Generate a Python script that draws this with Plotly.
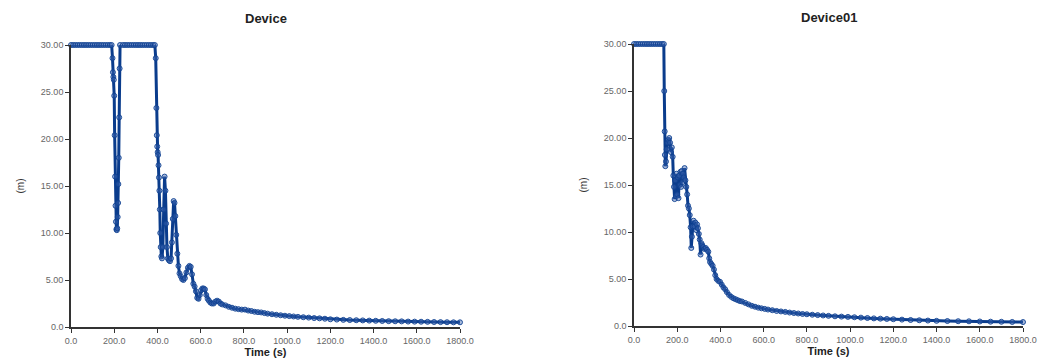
import plotly.graph_objects as go

# Device: distance (m) over time (s)
device_t = [0, 10, 20, 30, 40, 50, 60, 70, 80, 90, 100, 110, 120, 130, 140, 150, 160, 170, 180, 188,
            192, 194, 196, 198, 200, 202, 204, 206, 208, 210, 212, 214, 216, 218, 219, 221, 223, 225, 227,
            240, 250, 260, 270, 280, 290, 300, 310, 320, 330, 340, 350, 360, 370, 380, 388,
            392, 395, 397, 399, 401, 403, 405, 407, 409, 411, 413, 415, 418, 421, 425, 429, 433, 437, 440,
            444, 448, 453, 458, 463, 467, 471, 475, 479, 483, 487, 492, 497, 502, 508, 514, 520, 527, 534,
            541, 548, 554, 560, 566, 572, 578, 584, 590, 596, 602, 608, 614, 620, 626, 632, 638, 645, 652,
            660, 668, 676, 684, 692, 700, 715, 730, 745, 760, 775, 790, 805, 820, 835, 850, 865, 880, 895,
            910, 930, 950, 970, 990, 1010, 1030, 1050, 1075, 1100, 1125, 1150, 1175, 1200, 1230, 1260, 1290,
            1320, 1350, 1380, 1410, 1440, 1470, 1500, 1530, 1560, 1590, 1620, 1650, 1680, 1710, 1740, 1770, 1800]
device_m = [30, 30, 30, 30, 30, 30, 30, 30, 30, 30, 30, 30, 30, 30, 30, 30, 30, 30, 30, 30,
            28.6, 27.1, 26.6, 26.3, 24.6, 20.4, 16.0, 12.9, 11.2, 10.4, 10.3, 10.5, 11.7, 13.2, 15.2, 18.0, 22.3, 27.5, 30,
            30, 30, 30, 30, 30, 30, 30, 30, 30, 30, 30, 30, 30, 30, 30, 30,
            28.6, 23.3, 20.4, 19.2, 18.6, 18.3, 17.2, 15.9, 14.5, 12.5, 10.0, 8.5, 7.5, 7.3, 8.5, 12.5, 16.0, 14.5, 11.0,
            8.5, 7.3, 7.1, 7.0, 7.3, 9.0, 11.5, 13.4, 13.2, 11.8, 9.8, 7.8, 6.5, 5.7, 5.4, 5.1, 5.0, 5.2, 5.8,
            6.3, 6.5, 6.4, 5.6, 4.6, 4.3, 3.8, 3.1, 3.0, 3.4, 3.9, 4.1, 4.1, 4.0, 3.4, 3.0, 2.8, 2.6, 2.5,
            2.5, 2.7, 2.8, 2.7, 2.5, 2.4, 2.3, 2.15, 2.05, 1.95, 1.9, 1.85, 1.85, 1.75, 1.7, 1.62, 1.58, 1.55, 1.48,
            1.42, 1.36, 1.3, 1.25, 1.2, 1.16, 1.12, 1.08, 1.04, 1.0, 0.95, 0.92, 0.88, 0.82, 0.79, 0.76, 0.74,
            0.72, 0.7, 0.68, 0.66, 0.64, 0.62, 0.61, 0.6, 0.58, 0.57, 0.56, 0.55, 0.53, 0.52, 0.51, 0.5, 0.5]

# Device01: distance (m) over time (s)
device01_t = [0, 10, 20, 30, 40, 50, 60, 70, 80, 90, 100, 110, 120, 130, 138,
              140, 142, 143, 145, 148, 151, 155, 159, 163, 167, 171, 175, 179, 182, 185, 188, 191, 194, 197,
              200, 203, 206, 209, 212, 215, 218, 221, 224, 227, 230, 234, 238, 242, 246, 250, 254, 258, 262,
              265, 268, 272, 276, 280, 284, 288, 292, 296, 300, 304, 308, 312, 316, 320, 326, 332, 338, 344,
              348, 352, 358, 364, 370, 376, 382, 390, 398, 406, 414, 422, 430, 440, 450, 460, 470, 480, 490,
              500, 515, 530, 545, 560, 575, 590, 605, 620, 640, 660, 680, 700, 720, 740, 760, 780, 800, 825,
              850, 875, 900, 930, 960, 990, 1020, 1050, 1080, 1110, 1140, 1170, 1200, 1240, 1280, 1320, 1360,
              1400, 1450, 1500, 1550, 1600, 1650, 1700, 1750, 1800]
device01_m = [30, 30, 30, 30, 30, 30, 30, 30, 30, 30, 30, 30, 30, 30, 30,
              25.0, 20.7, 18.2, 17.0, 17.5, 18.8, 19.5, 19.8, 20.0, 19.5, 18.5, 19.0, 18.0, 16.0, 14.8, 13.5, 15.5, 13.8, 16.2,
              14.0, 15.8, 13.6, 16.0, 15.0, 16.4, 14.8, 16.5, 15.3, 16.2, 15.8, 16.8, 15.5, 14.8, 14.0, 12.8, 12.5, 11.8, 10.5,
              8.3, 9.5, 10.6, 11.2, 10.6, 11.0, 10.2, 10.8, 10.4, 9.8, 9.2, 7.6, 8.8, 8.6, 8.4, 8.2, 8.3, 8.1, 7.9,
              7.2, 6.8, 6.6, 6.4, 6.0, 5.4, 5.0, 4.8, 4.7, 4.4, 4.1, 3.9, 3.6, 3.3, 3.1, 2.95, 2.85, 2.75, 2.65,
              2.6, 2.45, 2.3, 2.15, 2.05, 1.95, 1.88, 1.82, 1.75, 1.68, 1.6, 1.55, 1.5, 1.43, 1.38, 1.33, 1.28, 1.25, 1.2,
              1.16, 1.12, 1.08, 1.03, 1.0, 0.97, 0.93, 0.89, 0.85, 0.81, 0.78, 0.75, 0.72, 0.68, 0.64, 0.61, 0.58,
              0.55, 0.53, 0.51, 0.5, 0.48, 0.46, 0.45, 0.43, 0.42]

titles = ["Device", "Device01"]
x_tickvals = [0, 200, 400, 600, 800, 1000, 1200, 1400, 1600, 1800]
x_ticktext = ["0.0", "200.0", "400.0", "600.0", "800.0", "1000.0", "1200.0", "1400.0", "1600.0", "1800.0"]
y_tickvals = [0, 5, 10, 15, 20, 25, 30]
y_ticktext = ["0.0", "5.00", "10.00", "15.00", "20.00", "25.00", "30.00"]

LINE = "#0a3c8c"
MARK_FILL = "rgba(60,100,175,0.45)"
MARK_EDGE = "rgba(15,65,145,0.9)"
AXIS = "#333333"
FONT = "Liberation Sans, Arial, sans-serif"

W, H = 1041, 363
# plot area in pixels: (left, right, top, bottom)
areas = [(71, 460, 45, 327), (634, 1023, 44, 326)]

fig = go.Figure()
series = [(device_t, device_m), (device01_t, device01_m)]

layout = dict(
    width=W, height=H,
    margin=dict(l=0, r=0, t=0, b=0),
    paper_bgcolor="white", plot_bgcolor="white",
    showlegend=False,
    font=dict(family=FONT, color="#555555", size=9),
    annotations=[],
)

for i, ((t, m), (l, r, tp, bt)) in enumerate(zip(series, areas)):
    xa = "x" if i == 0 else "x2"
    ya = "y" if i == 0 else "y2"
    fig.add_trace(go.Scatter(
        x=t, y=m, xaxis=xa, yaxis=ya, mode="lines+markers",
        line=dict(color=LINE, width=3),
        marker=dict(symbol="circle", size=5, color=MARK_FILL, line=dict(color=MARK_EDGE, width=1)),
        cliponaxis=False,
    ))
    xd = [l / W, r / W]
    yd = [(H - bt) / H, (H - tp) / H]
    common = dict(showgrid=False, zeroline=False, showline=True, linecolor=AXIS, linewidth=1.6,
                  ticks="outside", ticklen=4, tickwidth=1.4, tickcolor=AXIS, automargin=False,
                  tickfont=dict(family=FONT, size=9, color="#666666"))
    kx = "xaxis" if i == 0 else "xaxis2"
    ky = "yaxis" if i == 0 else "yaxis2"
    layout[kx] = dict(domain=xd, anchor=ya, range=[0, 1800], tickmode="array",
                      tickvals=x_tickvals, ticktext=x_ticktext, ticklabelstandoff=0,
                      title=dict(text="<b>Time (s)</b>", font=dict(family=FONT, size=11, color="#222222"),
                                 standoff=2),
                      **common)
    layout[ky] = dict(domain=yd, anchor=xa, range=[0, 30], tickmode="array",
                      tickvals=y_tickvals, ticktext=y_ticktext,
                      title=dict(text="(m)", font=dict(family=FONT, size=10, color="#333333"), standoff=14),
                      **common)
    # inner half of the crossing tick marks
    kx_in = "xaxis%d" % (3 + i * 2)
    ky_in = "yaxis%d" % (3 + i * 2)
    layout[kx_in] = dict(overlaying=xa, anchor=ya, range=[0, 1800], tickmode="array", tickvals=x_tickvals,
                         showticklabels=False, ticks="inside", ticklen=4, tickwidth=1.4, tickcolor=AXIS,
                         showgrid=False, zeroline=False, showline=False, automargin=False)
    layout[ky_in] = dict(overlaying=ya, anchor=xa, range=[0, 30], tickmode="array", tickvals=y_tickvals,
                         showticklabels=False, ticks="inside", ticklen=4, tickwidth=1.4, tickcolor=AXIS,
                         showgrid=False, zeroline=False, showline=False, automargin=False)
    layout["annotations"].append(dict(
        text="<b>%s</b>" % titles[i], xref="paper", yref="paper",
        x=(l + r) / 2 / W, y=(H - (tp - 26)) / H, xanchor="center", yanchor="middle",
        showarrow=False, font=dict(family=FONT, size=13, color="#222222")))

fig.update_layout(**layout)
fig.write_html("out.html")
